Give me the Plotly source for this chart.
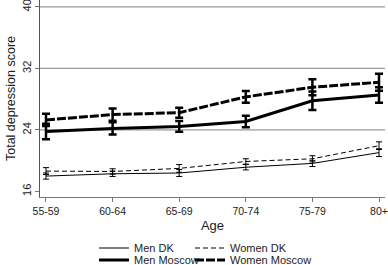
import plotly.graph_objects as go

ages = ["55-59", "60-64", "65-69", "70-74", "75-79", "80+"]

men_dk = [18.0, 18.3, 18.4, 19.15, 19.65, 21.05]
men_dk_err = [0.4, 0.35, 0.45, 0.35, 0.4, 0.5]
women_dk = [18.65, 18.6, 19.0, 19.9, 20.25, 21.95]
women_dk_err = [0.45, 0.35, 0.5, 0.35, 0.4, 0.5]

men_msk = [23.8, 24.2, 24.45, 25.1, 27.8, 28.55]
men_msk_err = [1.0, 0.8, 0.7, 0.75, 1.2, 1.0]
women_msk = [25.3, 26.0, 26.25, 28.3, 29.55, 30.2]
women_msk_err = [0.8, 0.8, 0.65, 0.75, 1.05, 1.1]

y_ticks = [16, 24, 32, 40]
grid_values = [24, 32, 40]

FONT = "Liberation Sans, Arial, sans-serif"
W, H = 388, 265

fig = go.Figure()

def add(name, y, err, width, dash, ewidth, ethick, legend):
    fig.add_trace(go.Scatter(
        x=ages, y=y, name=name, mode="lines",
        line=dict(color="black", width=width, dash=dash),
        error_y=dict(type="data", array=err, visible=True, color="black",
                     thickness=ethick, width=ewidth),
        legend=legend,
    ))

add("Men DK", men_dk, men_dk_err, 1, "solid", 3, 1, "legend")
add("Women DK", women_dk, women_dk_err, 1, "5px,3px", 3, 1, "legend2")
add("Men Moscow", men_msk, men_msk_err, 3, "solid", 4, 2.5, "legend3")
add("Women Moscow", women_msk, women_msk_err, 3, "9px,2px", 4, 2.5, "legend4")

for g in grid_values:
    fig.add_shape(type="line", xref="paper", yref="y", x0=0, x1=1, y0=g, y1=g,
                  line=dict(color="#9a9a9a", width=1.2), layer="below")

def leg(xpx, ypx):
    return dict(orientation="h", xref="container", yref="container",
                x=xpx / W, y=1 - ypx / H, xanchor="left", yanchor="middle",
                font=dict(family=FONT, size=11, color="#222"),
                bgcolor="rgba(0,0,0,0)", itemwidth=30, borderwidth=0)

fig.update_layout(
    width=W, height=H,
    margin=dict(l=40, r=3, t=0, b=68, autoexpand=False),
    paper_bgcolor="white", plot_bgcolor="white",
    font=dict(family=FONT, size=11, color="#222"),
    showlegend=True,
    legend=leg(94, 248),
    legend2=leg(190, 248),
    legend3=leg(94, 260),
    legend4=leg(190, 260),
    xaxis=dict(
        type="category", range=[-0.09, 5.09], automargin=False,
        showgrid=False, showline=True, linecolor="#777", linewidth=1,
        ticks="outside", ticklen=4, tickcolor="#777",
        tickfont=dict(family=FONT, size=10.5, color="#222"),
        ticklabeloverflow="allow",
        title=dict(text="Age", font=dict(family=FONT, size=13, color="#222"), standoff=8),
    ),
    yaxis=dict(
        range=[15.28, 40.9], tickmode="linear", tick0=y_ticks[0], dtick=y_ticks[1] - y_ticks[0],
        tickangle=-90, automargin=False, ticklabeloverflow="allow",
        showgrid=False, zeroline=False, showline=True, linecolor="#555", linewidth=1,
        ticks="outside", ticklen=4, tickcolor="#777",
        tickfont=dict(family=FONT, size=11, color="#222"),
        title=dict(text="Total depression score", font=dict(family=FONT, size=12.5, color="#222"), standoff=2),
    ),
)

fig.write_html("out.html", config={"displayModeBar": False},
               post_script="document.body.style.margin='0';document.body.style.overflow='hidden';")
